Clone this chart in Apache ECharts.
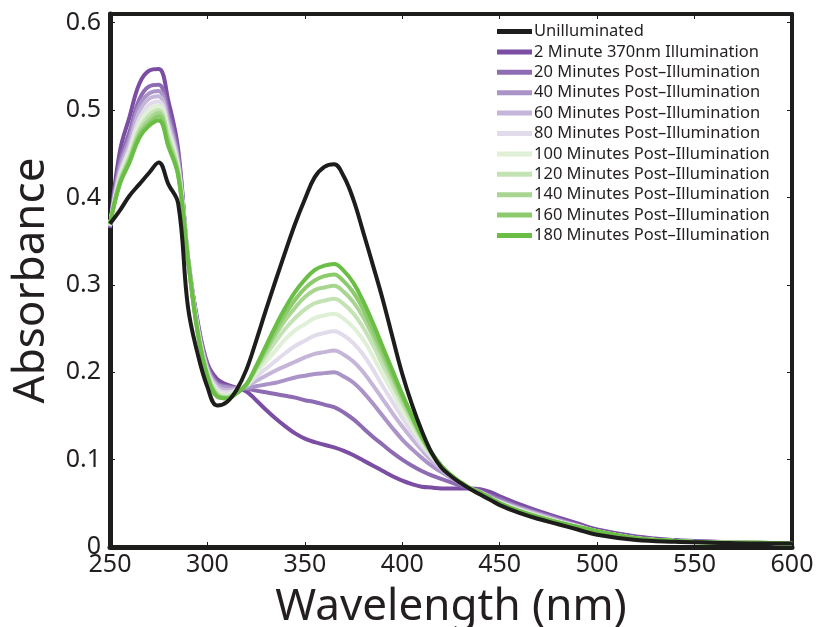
<!DOCTYPE html>
<html>
<head>
<meta charset="utf-8">
<script src="https://cdn.jsdelivr.net/npm/echarts@6/dist/echarts.min.js"></script>
<style>
  html, body { margin: 0; padding: 0; background: #fff; }
  #chart { width: 817px; height: 627px; }
</style>
</head>
<body>
<div id="chart"></div>
<script>
// wavelength grid (nm): 5 nm steps to 450, then coarser in the flat tail
var wavelength = [250, 255, 260, 265, 270, 275, 280, 285, 290, 295, 300, 305, 310, 315,
    320, 325, 330, 335, 340, 345, 350, 355, 360, 365, 370, 375, 380, 385, 390, 395, 400, 405, 410, 415, 420, 425, 430, 435, 440, 445, 450,
    460, 470, 480, 490, 500, 520, 540, 560, 580, 600];

var unilluminated = [0.370, 0.385, 0.402, 0.415, 0.428, 0.440, 0.415, 0.393, 0.275, 0.221, 0.183, 0.162, 0.166, 0.180,
    0.203, 0.236, 0.271, 0.305, 0.338, 0.370, 0.398, 0.423, 0.435, 0.438, 0.424, 0.397, 0.360, 0.322, 0.283, 0.240, 0.198, 0.163, 0.133, 0.108, 0.091, 0.081, 0.073, 0.066, 0.060, 0.054, 0.048,
    0.039, 0.032, 0.026, 0.020, 0.014, 0.008, 0.006, 0.005, 0.004, 0.004];
var min2 = [0.365, 0.452, 0.492, 0.530, 0.545, 0.547, 0.510, 0.455, 0.330, 0.258, 0.210, 0.192, 0.186, 0.182,
    0.178, 0.168, 0.157, 0.147, 0.138, 0.130, 0.124, 0.120, 0.117, 0.114, 0.110, 0.105, 0.099, 0.093, 0.087, 0.081, 0.076, 0.072, 0.069, 0.068, 0.067, 0.067, 0.067, 0.067, 0.066, 0.063, 0.058,
    0.049, 0.041, 0.034, 0.027, 0.020, 0.012, 0.008, 0.006, 0.005, 0.004];
var min20 = [0.366, 0.440, 0.475, 0.512, 0.527, 0.529, 0.497, 0.448, 0.332, 0.256, 0.207, 0.188, 0.184, 0.182,
    0.181, 0.179, 0.177, 0.175, 0.173, 0.171, 0.168, 0.166, 0.163, 0.160, 0.154, 0.146, 0.136, 0.126, 0.117, 0.108, 0.100, 0.093, 0.087, 0.082, 0.078, 0.074, 0.070, 0.067, 0.064, 0.059, 0.055,
    0.046, 0.039, 0.032, 0.025, 0.018, 0.011, 0.007, 0.006, 0.005, 0.004];
var min40 = [0.367, 0.435, 0.468, 0.505, 0.519, 0.522, 0.490, 0.443, 0.332, 0.254, 0.205, 0.186, 0.183, 0.182,
    0.182, 0.184, 0.186, 0.188, 0.191, 0.194, 0.196, 0.198, 0.199, 0.200, 0.195, 0.188, 0.177, 0.164, 0.150, 0.136, 0.123, 0.112, 0.102, 0.093, 0.086, 0.079, 0.073, 0.067, 0.063, 0.058, 0.053,
    0.045, 0.038, 0.031, 0.024, 0.018, 0.010, 0.007, 0.005, 0.005, 0.004];
var min60 = [0.367, 0.430, 0.462, 0.498, 0.513, 0.516, 0.485, 0.440, 0.331, 0.252, 0.203, 0.184, 0.180, 0.181,
    0.184, 0.190, 0.196, 0.202, 0.207, 0.212, 0.217, 0.221, 0.223, 0.225, 0.220, 0.212, 0.200, 0.185, 0.169, 0.153, 0.138, 0.124, 0.111, 0.099, 0.089, 0.080, 0.073, 0.067, 0.063, 0.057, 0.052,
    0.044, 0.037, 0.030, 0.024, 0.018, 0.010, 0.007, 0.005, 0.005, 0.004];
var min80 = [0.368, 0.426, 0.456, 0.490, 0.506, 0.510, 0.479, 0.436, 0.331, 0.250, 0.201, 0.181, 0.177, 0.180,
    0.185, 0.195, 0.204, 0.213, 0.222, 0.230, 0.236, 0.242, 0.245, 0.247, 0.242, 0.233, 0.220, 0.203, 0.184, 0.166, 0.148, 0.131, 0.116, 0.103, 0.091, 0.081, 0.074, 0.067, 0.062, 0.056, 0.051,
    0.043, 0.036, 0.029, 0.024, 0.018, 0.010, 0.007, 0.005, 0.005, 0.004];
var min100 = [0.368, 0.423, 0.452, 0.484, 0.500, 0.505, 0.474, 0.433, 0.331, 0.249, 0.199, 0.178, 0.174, 0.179,
    0.185, 0.199, 0.212, 0.225, 0.238, 0.248, 0.255, 0.262, 0.265, 0.267, 0.261, 0.251, 0.237, 0.218, 0.197, 0.177, 0.156, 0.137, 0.120, 0.105, 0.092, 0.082, 0.074, 0.067, 0.062, 0.056, 0.051,
    0.042, 0.035, 0.029, 0.023, 0.018, 0.010, 0.007, 0.005, 0.005, 0.004];
var min120 = [0.369, 0.420, 0.447, 0.478, 0.494, 0.500, 0.469, 0.430, 0.330, 0.248, 0.198, 0.176, 0.172, 0.178,
    0.186, 0.203, 0.219, 0.235, 0.250, 0.262, 0.272, 0.279, 0.282, 0.284, 0.278, 0.267, 0.251, 0.231, 0.208, 0.186, 0.164, 0.143, 0.123, 0.106, 0.093, 0.082, 0.074, 0.067, 0.062, 0.056, 0.050,
    0.042, 0.035, 0.028, 0.023, 0.018, 0.010, 0.007, 0.005, 0.005, 0.004];
var min140 = [0.369, 0.418, 0.444, 0.474, 0.489, 0.497, 0.465, 0.428, 0.330, 0.247, 0.197, 0.174, 0.171, 0.177,
    0.186, 0.205, 0.224, 0.243, 0.260, 0.274, 0.286, 0.294, 0.297, 0.299, 0.292, 0.280, 0.263, 0.241, 0.217, 0.193, 0.169, 0.147, 0.125, 0.107, 0.093, 0.082, 0.074, 0.067, 0.062, 0.056, 0.050,
    0.041, 0.034, 0.028, 0.023, 0.018, 0.010, 0.007, 0.005, 0.005, 0.004];
var min160 = [0.370, 0.416, 0.442, 0.471, 0.485, 0.493, 0.461, 0.426, 0.330, 0.246, 0.196, 0.173, 0.170, 0.176,
    0.186, 0.206, 0.227, 0.248, 0.267, 0.283, 0.296, 0.305, 0.310, 0.312, 0.304, 0.291, 0.272, 0.248, 0.223, 0.197, 0.172, 0.149, 0.126, 0.108, 0.093, 0.082, 0.074, 0.067, 0.062, 0.056, 0.050,
    0.041, 0.034, 0.028, 0.023, 0.018, 0.010, 0.007, 0.005, 0.005, 0.004];
var min180 = [0.370, 0.415, 0.440, 0.468, 0.482, 0.488, 0.458, 0.425, 0.330, 0.245, 0.195, 0.172, 0.170, 0.176,
    0.186, 0.207, 0.230, 0.253, 0.274, 0.292, 0.306, 0.317, 0.322, 0.324, 0.316, 0.302, 0.281, 0.256, 0.229, 0.202, 0.175, 0.150, 0.127, 0.108, 0.093, 0.082, 0.074, 0.067, 0.062, 0.056, 0.050,
    0.041, 0.034, 0.028, 0.023, 0.018, 0.010, 0.007, 0.005, 0.005, 0.004];

var seriesNames = ['Unilluminated', '2 Minute 370nm Illumination', '20 Minutes Post\u2013Illumination', '40 Minutes Post\u2013Illumination', '60 Minutes Post\u2013Illumination', '80 Minutes Post\u2013Illumination', '100 Minutes Post\u2013Illumination', '120 Minutes Post\u2013Illumination', '140 Minutes Post\u2013Illumination', '160 Minutes Post\u2013Illumination', '180 Minutes Post\u2013Illumination'];
var seriesValues = [unilluminated, min2, min20, min40, min60, min80, min100, min120, min140, min160, min180];
var seriesColors = ['#1d1d1b', '#7b4ea3', '#8e6cb4', '#a993c7', '#c5b5d9', '#e2dbec', '#dff0d6', '#c3e3b4', '#a8d690', '#8ccb6c', '#6abd45'];

var xTicks = [250, 300, 350, 400, 450, 500, 550, 600];

var font = 'Noto Sans';
var textColor = '#231f20';

var series = [];
for (var i = 0; i < seriesNames.length; i++) {
    var pts = [];
    for (var j = 0; j < wavelength.length; j++) {
        pts.push([wavelength[j], seriesValues[i][j]]);
    }
    series.push({
        name: seriesNames[i],
        type: 'line',
        data: pts,
        smooth: 0.4,
        showSymbol: false,
        symbol: 'none',
        z: i === 0 ? 20 : 2 + i,
        lineStyle: { color: seriesColors[i], width: 4 },
        itemStyle: { color: seriesColors[i] }
    });
}

var myChart = echarts.init(document.getElementById('chart'));

var option = {
    animation: false,
    backgroundColor: '#fff',
    grid: { left: 110, right: 25, top: 14, bottom: 80, outerBoundsMode: 'none', containLabel: false },
    legend: {
        orient: 'vertical',
        left: 492,
        top: 18,
        itemWidth: 35,
        itemHeight: 5,
        itemGap: 3.4,
        icon: 'rect',
        data: seriesNames,
        textStyle: { fontFamily: font, fontSize: 16.5, color: textColor, lineHeight: 16, padding: [0, 0, 0, -3] }
    },
    xAxis: [{
        type: 'value',
        min: 250,
        max: 600,
        interval: 50,
        position: 'bottom',
        name: 'Wavelength (nm)',
        nameLocation: 'middle',
        nameGap: 38,
        nameTextStyle: { fontFamily: font, fontSize: 44, color: textColor },
        axisLine: { show: true, onZero: false, lineStyle: { color: '#1d1d1b', width: 5 } },
        axisTick: { show: true, inside: true, length: 5, lineStyle: { color: '#1d1d1b', width: 1 } },
        axisLabel: {
            fontFamily: font, fontSize: 25, color: textColor, margin: 5,
            formatter: function (v) { return xTicks.indexOf(v) >= 0 ? String(v) : ''; }
        },
        splitLine: { show: false }
    }, {
        type: 'value',
        min: 250,
        max: 600,
        interval: 50,
        position: 'top',
        axisLine: { show: true, onZero: false, lineStyle: { color: '#1d1d1b', width: 4 } },
        axisTick: { show: true, inside: true, length: 5, lineStyle: { color: '#1d1d1b', width: 1 } },
        axisLabel: { show: false },
        splitLine: { show: false }
    }],
    yAxis: [{
        type: 'value',
        min: 0,
        max: 0.61,
        interval: 0.1,
        position: 'left',
        name: 'Absorbance',
        nameLocation: 'middle',
        nameGap: 57,
        nameTextStyle: { fontFamily: font, fontSize: 44, color: textColor },
        axisLine: { show: true, onZero: false, lineStyle: { color: '#1d1d1b', width: 5 } },
        axisTick: { show: true, inside: true, length: 5, lineStyle: { color: '#1d1d1b', width: 1 } },
        axisLabel: {
            fontFamily: font, fontSize: 25, color: textColor, margin: 9, showMaxLabel: false,
            formatter: function (v) { return Math.abs(v * 10 - Math.round(v * 10)) < 1e-6 ? String(Math.round(v * 10) / 10) : ''; }
        },
        splitLine: { show: false }
    }, {
        type: 'value',
        min: 0,
        max: 0.61,
        interval: 0.1,
        position: 'right',
        axisLine: { show: true, onZero: false, lineStyle: { color: '#1d1d1b', width: 4 } },
        axisTick: { show: true, inside: true, length: 5, lineStyle: { color: '#1d1d1b', width: 1 } },
        axisLabel: { show: false },
        splitLine: { show: false }
    }],
    series: series
};

myChart.setOption(option);
</script>
</body>
</html>
